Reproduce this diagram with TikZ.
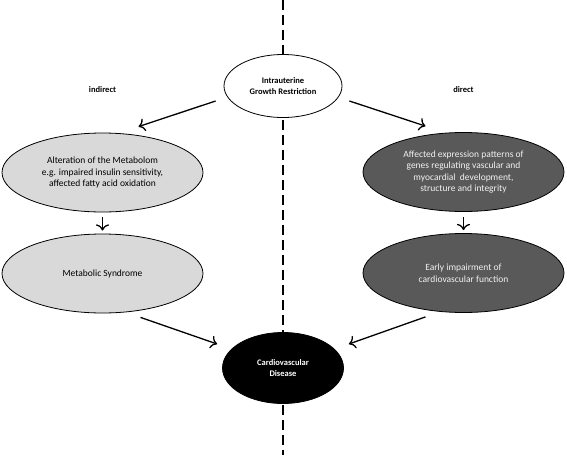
\documentclass[tikz,border=0pt]{standalone}
\usepackage{fontspec}
\setmainfont{Carlito}
\usetikzlibrary{shapes.geometric,arrows.meta}

\begin{document}
\begin{tikzpicture}[x=1pt, y=1pt, auto, node distance=101pt, thick, >={To[scale=1.4]},
		main node/.style={ellipse,draw,line width=0.8pt,inner sep=0pt,align=center,
			font=\fontsize{9.5}{11.5}\selectfont},
		key node/.style={main node,font=\fontsize{8.5}{11.5}\selectfont\bfseries},
		light node/.style={main node,fill=black!15,minimum width=201pt,minimum height=79pt},
		dark node/.style={main node,fill=black!65,text=black!5,minimum width=201pt,minimum height=79pt}]
		\useasboundingbox (0,0) rectangle (567,-455);
		
		\coordinate (top) at (283,0);
		\coordinate (bottom) at (283,-455);
		\draw[line width=1.3pt, dash pattern=on 10pt off 5pt] (top) -- (bottom);
		
		\node[key node,fill=white,minimum width=118pt,minimum height=63pt] (1) at (283,-86) {Intrauterine\\Growth Restriction};
		\node[light node] (2) at (102.5,-172.5) {Alteration of the Metabolom\\e.g. impaired insulin sensitivity,\\affected fatty acid oxidation};
		\node[dark node] (3) at (463.5,-172) {Affected expression patterns of\\genes regulating vascular and\\myocardial\ \ development,\\structure and integrity};
		\node[light node] (4) [below of=2] {Metabolic Syndrome};
		\node[dark node] (5) [below of=3] {Early impairment of\\cardiovascular function};
		\node[key node,fill=black,text=white,minimum width=121pt,minimum height=71pt] (6) at (283,-368) {Cardiovascular\\Disease};
		
		\node[font=\fontsize{8.5}{10}\selectfont\bfseries] (ind) at (102.5,-90) {indirect};
		\node[font=\fontsize{8.5}{10}\selectfont\bfseries] (dir) at (463.5,-90) {direct};
		
		\path[->, line width=1.3pt]
		([xshift=-8pt,yshift=-15pt]1.west) edge ([xshift=36pt,yshift=6pt]2.north)
		([xshift=7pt,yshift=-15pt]1.east) edge ([xshift=-38pt,yshift=6pt]3.north)
		(2.south) edge[shorten <=5pt, shorten >=3pt] (4.north)
		(3.south) edge[shorten <=5pt, shorten >=3pt] (5.north)
		([xshift=38pt,yshift=-4pt]4.south) edge ([xshift=-5pt,yshift=24pt]6.west)
		([xshift=-38pt,yshift=-4pt]5.south) edge ([xshift=5pt,yshift=24pt]6.east);
		\end{tikzpicture}
\end{document}
